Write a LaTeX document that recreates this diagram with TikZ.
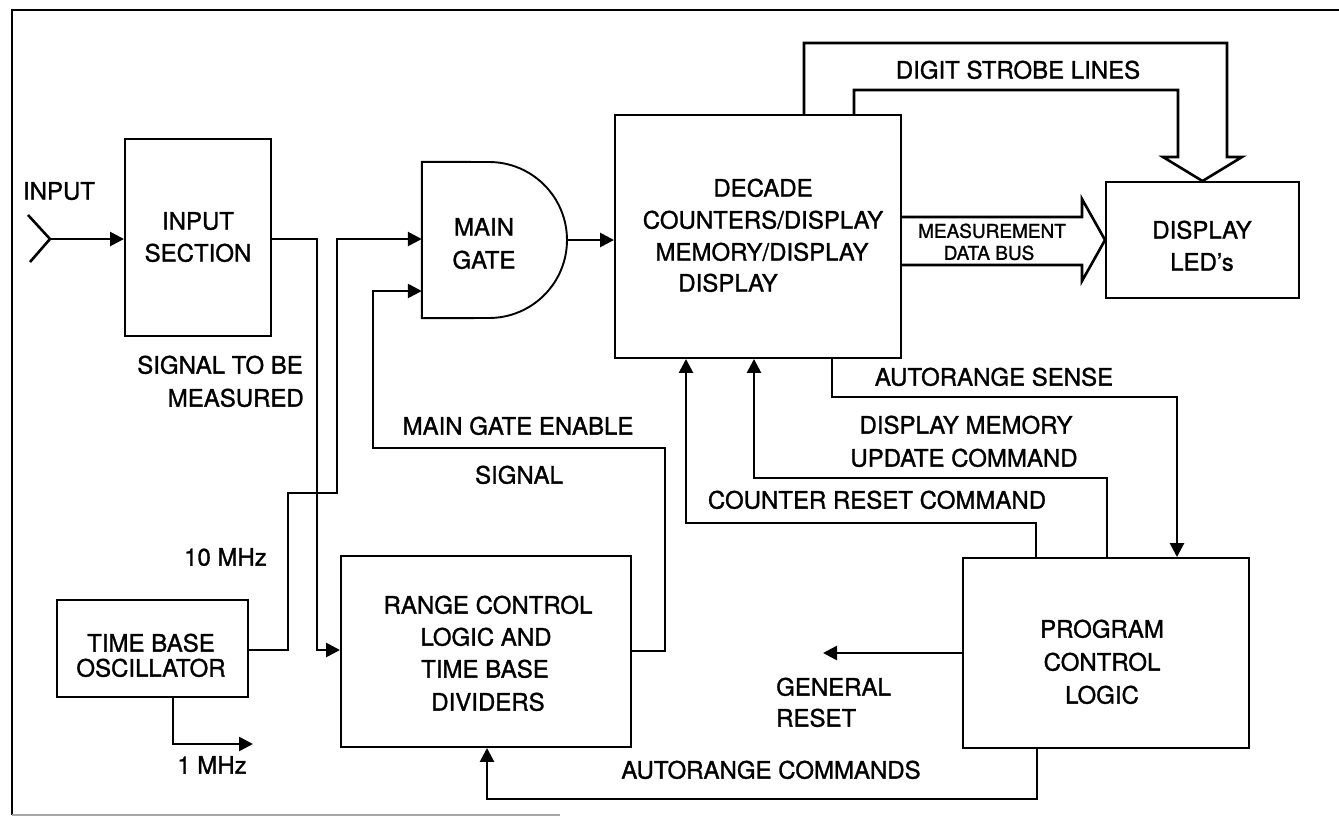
\documentclass[tikz,border=0pt]{standalone}
\usepackage{fontspec}
\setmainfont{TeX Gyre Heros}[FakeBold=1.2]
\usetikzlibrary{arrows.meta,calc}
\begin{document}
\begin{tikzpicture}[x=1pt,y=-1pt,
  box/.style={draw, line width=1.9pt, inner sep=0pt, rectangle},
  conn/.style={line width=2.6pt},
  arr/.style={conn, -{Triangle[length=14pt,width=14pt]}},
  lbl/.style={font=\fontsize{24}{28}\selectfont, inner sep=0pt, text height=17.2pt, text depth=0pt},
  smalllbl/.style={font=\fontsize{19}{22}\selectfont, inner sep=0pt, text height=13.6pt, text depth=0pt},
  frame/.style={line width=2.5pt}]
\useasboundingbox (0,0) rectangle (1339,817);
\fill[white] (0,0) rectangle (1339,817);
% frame
\draw[frame] (1339,10) -- (12,10) -- (12,815);
\draw[frame, gray!70] (12,815) -- (560,815);
% boxes
\node[box, minimum width=146pt, minimum height=197pt] (insec) at (198,237.5) {};
\node[box, minimum width=286pt, minimum height=243pt] (dec) at (758,236.5) {};
\node[box, minimum width=193pt, minimum height=116pt] (led) at (1202.5,240) {};
\node[box, minimum width=191pt, minimum height=97pt] (tbo) at (152.5,648.5) {};
\node[box, minimum width=290pt, minimum height=191pt] (rng) at (486,651.5) {};
\node[box, minimum width=286pt, minimum height=190pt] (pcl) at (1106,653) {};
\node[inner sep=0pt, minimum width=145pt, minimum height=156pt] (gate) at (494.5,240) {};
\draw[box] (gate.north west) -- (489,162) arc[start angle=-90, end angle=90, radius=78] -- (gate.south west) -- cycle;
% texts
\node[lbl] (tin) at (59,191) {INPUT};
\node[lbl] (tis1) at (198,221) {INPUT};
\node[lbl] (tis2) at (198,253) {SECTION};
\node[lbl, anchor=east] (tsig1) at (303,365) {SIGNAL TO BE};
\node[lbl, anchor=east] (tsig2) at (304,398) {MEASURED};
\node[lbl] (tg1) at (484,227) {MAIN};
\node[lbl] (tg2) at (484,260) {GATE};
\node[lbl] (td1) at (763,188) {DECADE};
\node[lbl] (td2) at (763,220) {COUNTERS/DISPLAY};
\node[lbl] (td3) at (762,252) {MEMORY/DISPLAY};
\node[lbl] (td4) at (728,283) {DISPLAY};
\node[lbl] (tdsl) at (1018,70) {DIGIT STROBE LINES};
\node[smalllbl] (tmb1) at (992,231) {MEASUREMENT};
\node[smalllbl] (tmb2) at (989,253) {DATA BUS};
\node[lbl] (tl1) at (1202,230) {DISPLAY};
\node[lbl] (tl2) at (1202,262) {LED’s};
\node[lbl] (tas) at (994,377) {AUTORANGE SENSE};
\node[lbl] (tdm1) at (966,425) {DISPLAY MEMORY};
\node[lbl] (tdm2) at (964,458) {UPDATE COMMAND};
\node[lbl] (tcr) at (877,500) {COUNTER RESET COMMAND};
\node[lbl] (tme1) at (518,426) {MAIN GATE ENABLE};
\node[lbl] (tme2) at (519,475) {SIGNAL};
\node[lbl, anchor=east] (t10) at (267,557) {10 MHz};
\node[lbl] (tt1) at (151,643) {TIME BASE};
\node[lbl] (tt2) at (151,668) {OSCILLATOR};
\node[lbl] (tr1) at (488,605) {RANGE CONTROL};
\node[lbl] (tr2) at (486,637) {LOGIC AND};
\node[lbl] (tr3) at (485,669) {TIME BASE};
\node[lbl] (tr4) at (488,702) {DIVIDERS};
\node[lbl] (tp1) at (1102,629) {PROGRAM};
\node[lbl] (tp2) at (1102,662) {CONTROL};
\node[lbl] (tp3) at (1102,695) {LOGIC};
\node[lbl, anchor=west] (tgr1) at (776,687) {GENERAL};
\node[lbl, anchor=west] (tgr2) at (776,718) {RESET};
\node[lbl] (tac) at (771,770) {AUTORANGE COMMANDS};
\node[lbl] (t1m) at (212,765) {1 MHz};
% connectors
\coordinate (ant) at (50,239);
\draw[conn] (28,215) -- (ant) -- (30,262);
\draw[arr] (ant) -- (insec.west |- ant);
\draw[arr] (insec.east |- 0,239) -- (317,239) -- (317,650) -- (rng.west |- 0,650);
\draw[arr] (tbo.east |- 0,650) -- (288,650) -- (288,493) -- (337,493) -- (337,239) -- (gate.west |- 0,239);
\draw[arr] (rng.east |- 0,651) -- (665,651) -- (665,448) -- (373,448) -- (373,291) -- (gate.west |- 0,291);
\draw[arr] (gate.east) -- (dec.west |- gate.east);
\draw[conn] (804,0 |- dec.north) -- (804,43) -- (1227,43) -- (1227,157) -- (1242,157) -- (led.north) -- (1163,157) -- (1178,157) -- (1178,90) -- (854,90) -- (854,0 |- dec.north);
\draw[conn] (dec.east |- 0,217) -- (1082,217) -- (1082,199) -- (led.west) -- (1082,281) -- (1082,265) -- (dec.east |- 0,265);
\draw[arr] (1036,0 |- pcl.north) -- (1036,523) -- (686,523) -- (686,0 |- dec.south);
\draw[arr] (1107,0 |- pcl.north) -- (1107,478) -- (754,478) -- (754,0 |- dec.south);
\draw[arr] (832,0 |- dec.south) -- (832,397) -- (1177,397) -- (1177,0 |- pcl.north);
\coordinate (gr) at (823,653);
\draw[arr] (pcl.west |- gr) -- (gr);
\draw[arr] (1037,0 |- pcl.south) -- (1037,799) -- (487,799) -- (487,0 |- rng.south);
\coordinate (onem) at (253,744);
\draw[arr] (173,0 |- tbo.south) -- (173,744) -- (onem);
\end{tikzpicture}
\end{document}
